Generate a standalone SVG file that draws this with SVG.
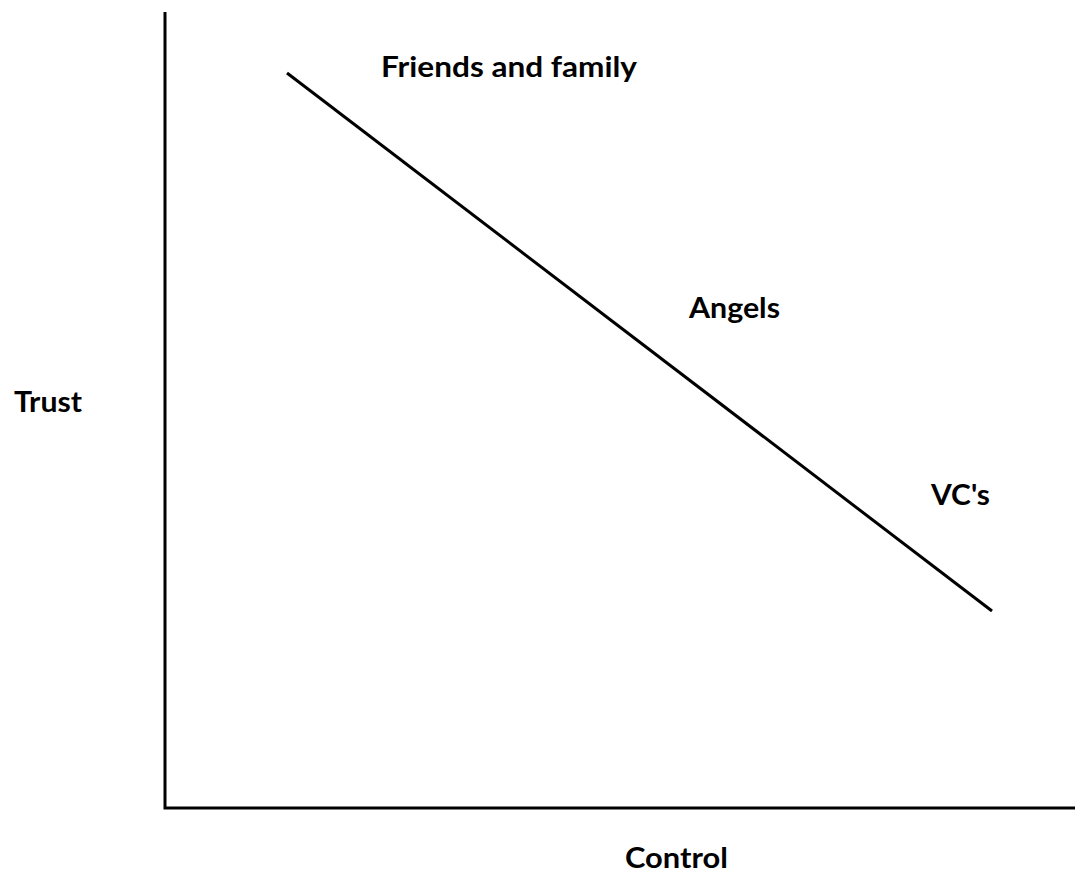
<svg xmlns="http://www.w3.org/2000/svg" width="1075" height="875" viewBox="0 0 1075 875">
<style>
.lbl{font-family:Lato,"Open Sans","Liberation Sans",sans-serif;font-weight:bold;font-size:28px;fill:#000}
.ax{stroke:#000;stroke-width:3;fill:none}
</style>
<rect width="1075" height="875" fill="#fff"/>
<g id="connectors">
<path class="ax" d="M165,12 V808 H1075"/>
<line x1="287" y1="73" x2="992" y2="611" stroke="#000" stroke-width="3"/>
</g>
<g id="friends"><text class="lbl" x="381" y="77" textLength="256" lengthAdjust="spacingAndGlyphs">Friends and family</text></g>
<g id="angels"><text class="lbl" x="689" y="318" textLength="91" lengthAdjust="spacingAndGlyphs">Angels</text></g>
<g id="vcs"><text class="lbl" x="931" y="505" textLength="59" lengthAdjust="spacingAndGlyphs">VC's</text></g>
<g id="trust"><text class="lbl" x="14" y="412" textLength="68" lengthAdjust="spacingAndGlyphs">Trust</text></g>
<g id="control"><text class="lbl" x="625" y="868" textLength="103" lengthAdjust="spacingAndGlyphs">Control</text></g>
</svg>
